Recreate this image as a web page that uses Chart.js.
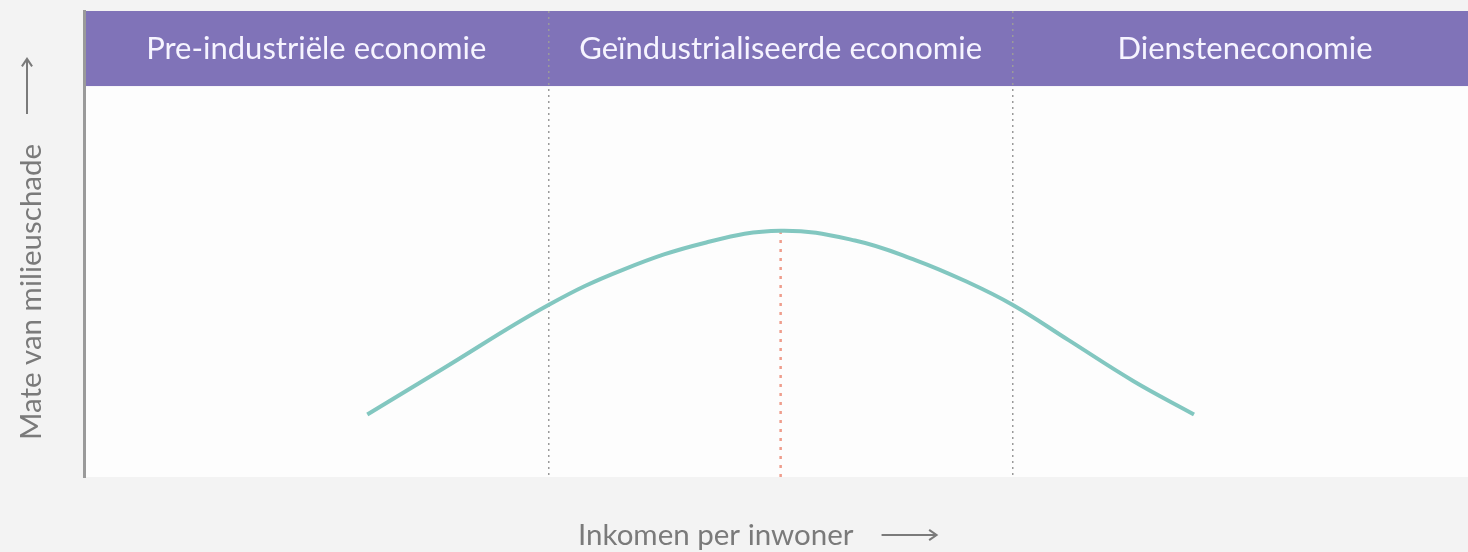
<!DOCTYPE html>
<html>
<head>
<meta charset="utf-8">
<script src="https://cdn.jsdelivr.net/npm/chart.js@4.4.1/dist/chart.umd.min.js"></script>
<style>
  html, body { margin: 0; padding: 0; background: #f3f3f3; overflow: hidden; }
  #wrap { position: relative; width: 1468px; height: 552px; }
</style>
</head>
<body>
<div id="wrap"><canvas id="c"></canvas></div>
<script>
// ---- data ----
const phaseLabels = ['Pre-industriële economie', 'Geïndustrialiseerde economie', 'Diensteneconomie'];
const phaseCenters = [0.5, 1.5, 2.5];
const phaseBounds = [1, 2];
const incomeX = [0.61, 0.77, 1.0, 1.16, 1.34, 1.5, 1.66, 1.79, 1.9, 2.0, 2.12, 2.26, 2.39];
const damageY = [16, 27.5, 44, 53, 60, 63, 60.5, 55.5, 50, 44, 35, 24.5, 16];
const peakX = [1.5, 1.5];
const peakY = [0, 63];
const xTitle = 'Inkomen per inwoner';
const yTitle = 'Mate van milieuschade';

const xMax = 2.98;
const plotTop = 100;   // top of plot region (header band above)
const yMax = 119.2;

const curve = incomeX.map((x, i) => ({ x: x, y: damageY[i] }));
const peak = peakX.map((x, i) => ({ x: x, y: peakY[i] }));

const FONT = 'Lato, "Open Sans", sans-serif';

function arrow(ctx, x1, y1, x2, y2) {
  const a = Math.atan2(y2 - y1, x2 - x1);
  const h = 9;
  ctx.beginPath();
  ctx.moveTo(x1, y1);
  ctx.lineTo(x2, y2);
  ctx.moveTo(x2 - h * Math.cos(a - 0.6), y2 - h * Math.sin(a - 0.6));
  ctx.lineTo(x2, y2);
  ctx.lineTo(x2 - h * Math.cos(a + 0.6), y2 - h * Math.sin(a + 0.6));
  ctx.stroke();
}

const bandPlugin = {
  id: 'band',
  beforeDraw(chart) {
    const { ctx, chartArea, scales } = chart;
    const yTop = scales.y.getPixelForValue(plotTop);
    ctx.save();
    ctx.fillStyle = '#fdfdfd';
    ctx.fillRect(chartArea.left, yTop, chartArea.right - chartArea.left, chartArea.bottom - yTop);
    ctx.fillStyle = '#8073b8';
    ctx.fillRect(chartArea.left, chartArea.top, chartArea.right - chartArea.left, yTop - chartArea.top);
    ctx.restore();
  },
  afterDraw(chart) {
    const { ctx, chartArea, scales } = chart;
    const yTop = scales.y.getPixelForValue(plotTop);
    const yMid = (chartArea.top + yTop) / 2;
    ctx.save();
    // header labels
    ctx.fillStyle = '#f6f4ff';
    ctx.font = '31px ' + FONT;
    ctx.textAlign = 'center';
    ctx.textBaseline = 'middle';
    phaseLabels.forEach((t, i) => {
      ctx.fillText(t, scales.x.getPixelForValue(phaseCenters[i]), yMid);
    });
    // axis titles
    ctx.fillStyle = '#7a7a7a';
    ctx.strokeStyle = '#7a7a7a';
    ctx.lineWidth = 2;
    ctx.font = '29.5px ' + FONT;
    ctx.textAlign = 'left';
    ctx.textBaseline = 'alphabetic';
    const xStart = 578;
    ctx.fillText(xTitle, xStart, chartArea.bottom + 68);
    const xw = ctx.measureText(xTitle).width;
    arrow(ctx, xStart + xw + 28, chartArea.bottom + 58, xStart + xw + 83, chartArea.bottom + 58);
    // y title (rotated)
    ctx.save();
    ctx.translate(41, chartArea.bottom - 37);
    ctx.rotate(-Math.PI / 2);
    ctx.fillText(yTitle, 0, 0);
    const yw = ctx.measureText(yTitle).width;
    ctx.restore();
    const yEnd = chartArea.bottom - 37 - yw;
    arrow(ctx, 27, yEnd - 30, 27, yEnd - 85);
    ctx.restore();
  }
};

new Chart(document.getElementById('c'), {
  type: 'scatter',
  data: {
    datasets: [
      {
        data: peak,
        showLine: true,
        borderColor: '#ef9d8c',
        borderWidth: 2.5,
        borderDash: [3, 6],
        pointRadius: 0,
        order: 2
      },
      {
        data: curve,
        showLine: true,
        borderColor: '#82c7c0',
        borderWidth: 4,
        tension: 0.4,
        pointRadius: 0,
        order: 1
      }
    ]
  },
  options: {
    responsive: true,
    maintainAspectRatio: false,
    animation: false,
    layout: { padding: { top: 11, left: 84, right: 0, bottom: 75 } },
    plugins: { legend: { display: false }, tooltip: { enabled: false } },
    scales: {
      x: {
        type: 'linear',
        min: 0,
        max: xMax,
        afterBuildTicks(scale) { scale.ticks = phaseBounds.map(v => ({ value: v })); },
        ticks: { display: false },
        grid: { display: true, color: '#9a9a9a', lineWidth: 1.5, drawTicks: false },
        border: { display: false, dash: [2, 4] }
      },
      y: {
        type: 'linear',
        min: 0,
        max: yMax,
        ticks: { display: false },
        grid: { display: false, drawTicks: false },
        border: { display: true, color: '#9a9a9a', width: 3 }
      }
    }
  },
  plugins: [bandPlugin]
});
</script>
</body>
</html>
